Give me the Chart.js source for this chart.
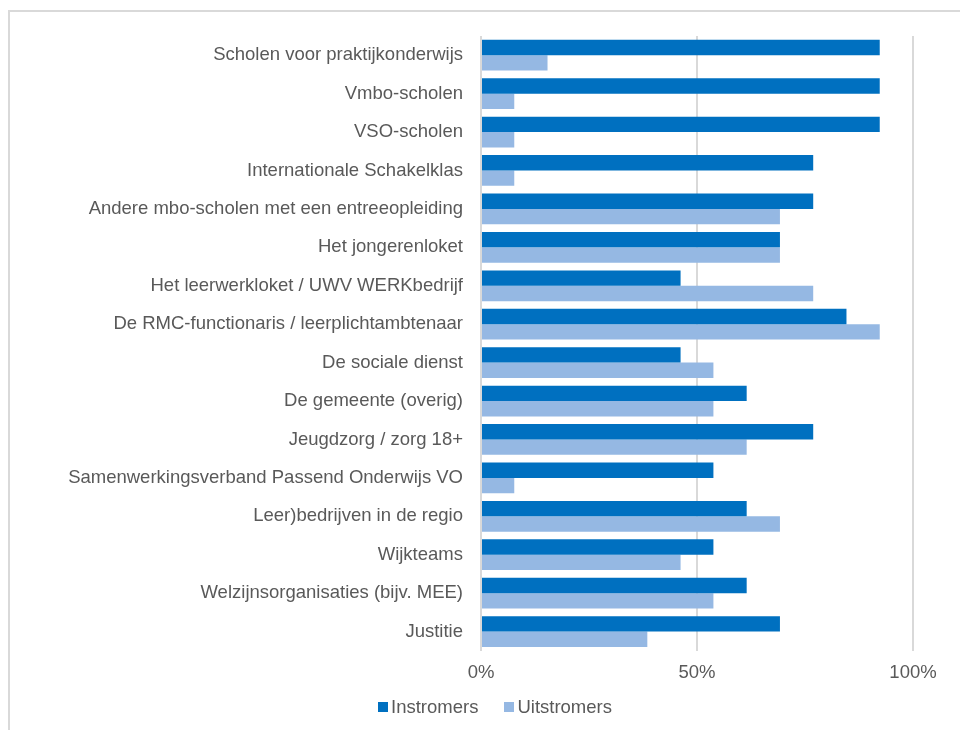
<!DOCTYPE html>
<html>
<head>
<meta charset="utf-8">
<script src="https://cdn.jsdelivr.net/npm/chart.js@4"></script>
<style>
  body { margin: 0; background: #fff; overflow: hidden; font-family: Arial, "Liberation Sans", sans-serif; }
  #frame { position: absolute; left: 8px; top: 10px; width: 1000px; height: 800px; border: 2px solid #d9d9d9; }
  #wrap { position: absolute; left: 0; top: 0; width: 960px; height: 730px; }
  #legend { position: absolute; left: 0; top: 696px; width: 960px; text-align: center; font-size: 18.5px; color: #595959; padding-left: 30px; box-sizing: border-box; }
  #legend span.item { display: inline-block; margin: 0 13px; }
  #legend span.box { display: inline-block; width: 10px; height: 10px; margin-right: 3px; vertical-align: 1px; }
</style>
</head>
<body>
<div id="frame"></div>
<div id="wrap"><canvas id="chart"></canvas></div>
<div id="legend"></div>
<script>
// categories, top to bottom
const categories = [
  'Scholen voor praktijkonderwijs',
  'Vmbo-scholen',
  'VSO-scholen',
  'Internationale Schakelklas',
  'Andere mbo-scholen met een entreeopleiding',
  'Het jongerenloket',
  'Het leerwerkloket / UWV WERKbedrijf',
  'De RMC-functionaris / leerplichtambtenaar',
  'De sociale dienst',
  'De gemeente (overig)',
  'Jeugdzorg / zorg 18+',
  'Samenwerkingsverband Passend Onderwijs VO',
  'Leer)bedrijven in de regio',
  'Wijkteams',
  'Welzijnsorganisaties (bijv. MEE)',
  'Justitie'
];

// percentages
const instromers = [92.3, 92.3, 92.3, 76.9, 76.9, 69.2, 46.2, 84.6, 46.2, 61.5, 76.9, 53.8, 61.5, 53.8, 61.5, 69.2];
const uitstromers = [15.4, 7.7, 7.7, 7.7, 69.2, 69.2, 76.9, 92.3, 53.8, 53.8, 61.5, 7.7, 69.2, 46.2, 53.8, 38.5];

const xTicks = [0, 50, 100];

const textColor = '#595959';
const gridColor = '#d9d9d9';
const font = { family: 'Arial, "Liberation Sans"', size: 18.5 };

const ctx = document.getElementById('chart').getContext('2d');

const chart = new Chart(ctx, {
  type: 'bar',
  data: {
    labels: categories,
    datasets: [{
      label: 'Instromers',
      data: instromers,
      backgroundColor: '#0070c0',
      borderWidth: 0,
      categoryPercentage: 0.8,
      barPercentage: 1.0
    }, {
      label: 'Uitstromers',
      data: uitstromers,
      backgroundColor: '#95b8e3',
      borderWidth: 0,
      categoryPercentage: 0.8,
      barPercentage: 1.0
    }]
  },
  options: {
    indexAxis: 'y',
    responsive: true,
    maintainAspectRatio: false,
    animation: false,
    layout: {
      padding: { left: 0, right: 47, top: 36, bottom: 35 }
    },
    plugins: {
      legend: { display: false },
      tooltip: { enabled: false }
    },
    scales: {
      x: {
        min: 0,
        max: 100,
        afterBuildTicks: axis => { axis.ticks = xTicks.map(v => ({ value: v })); },
        ticks: {
          color: textColor,
          padding: 11,
          font: font,
          callback: v => v + '%'
        },
        grid: { color: gridColor, lineWidth: 2, drawTicks: false },
        border: { display: false }
      },
      y: {
        afterFit: axis => { axis.width = 481; },
        ticks: {
          color: textColor,
          padding: 10,
          font: font
        },
        grid: { display: false },
        border: { display: false }
      }
    }
  }
});

// simple html legend
const legendEl = document.getElementById('legend');
chart.data.datasets.forEach(ds => {
  const item = document.createElement('span');
  item.className = 'item';
  item.innerHTML = '<span class="box" style="background:' + ds.backgroundColor + '"></span>' + ds.label;
  legendEl.appendChild(item);
});
</script>
</body>
</html>
